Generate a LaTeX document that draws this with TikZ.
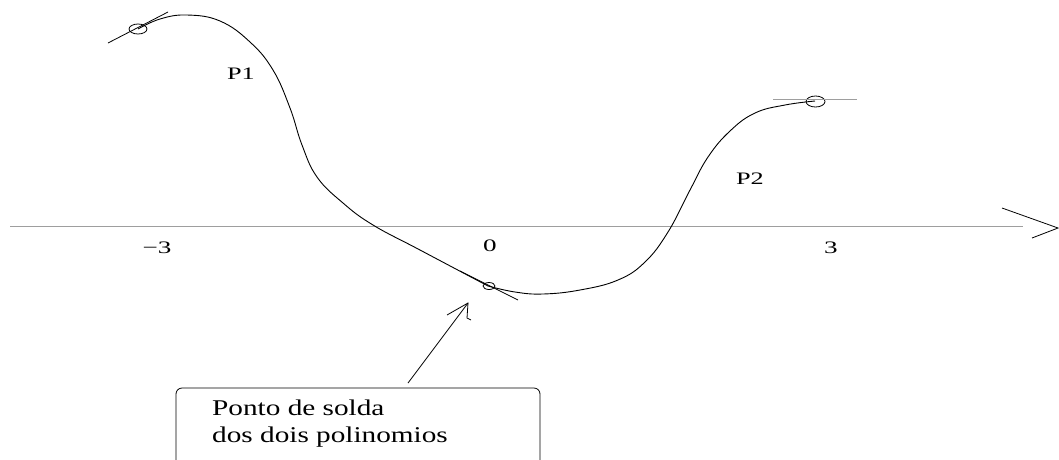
\documentclass[tikz,border=0pt]{standalone}
\usepackage{fontspec}
\setmainfont{Liberation Serif}
\usetikzlibrary{shapes.geometric}
\begin{document}
\begin{tikzpicture}[x=1pt,y=-1pt,
  axisline/.style={line width=1pt, black!38},
  curveline/.style={line width=0.9pt, black},
  thinline/.style={line width=0.8pt, black},
  knot/.style={draw, ellipse, line width=0.8pt, inner sep=0pt},
  lbl/.style={inner sep=0pt, font=\fontsize{17.5}{20}\selectfont},
  boxtxt/.style={inner sep=0pt, font=\fontsize{22.5}{27}\selectfont}]
\useasboundingbox (0,0) rectangle (1059,459);
% axis
\coordinate (axL) at (10,226);
\coordinate (axR) at (1023,226);
\coordinate (axTip) at (1058,228);
\coordinate (axW1) at (1002,208);
\coordinate (axW2) at (1032,238);
\draw[axisline] (axL) -- (axR);
\draw[thinline] (axW1) -- (axTip) -- (axW2);
% tick labels
\node[lbl] (tm3) at (157,248) {\scalebox{1.55}[1]{−3}};
\node[lbl] (t0) at (490,246) {\scalebox{1.55}[1]{0}};
\node[lbl] (t3) at (831,248) {\scalebox{1.55}[1]{3}};
% curve labels
\node[lbl] (p1) at (241,74) {\scalebox{1.5}[1]{P1}};
\node[lbl] (p2) at (750,179) {\scalebox{1.5}[1]{P2}};
% curve
\draw[curveline] plot[smooth, tension=0.7] coordinates {(138,29) (160,19) (187,15) (220,21) (250,42) (273,70) (290,108) (302,145) (317,177) (343,203) (373,225) (420,250) (488,286)};
\draw[curveline] plot[smooth, tension=0.7] coordinates {(488,286) (515,292) (543,294) (580,290) (618,280) (645,262) (668,232) (690,190) (708,157) (730,131) (755,113) (785,105) (815,101)};
% knots and tangents
\node[knot, minimum width=18pt, minimum height=10pt] (k1) at (138,29) {};
\node[knot, minimum width=12pt, minimum height=7pt] (k2) at (489,286) {};
\node[knot, minimum width=19pt, minimum height=11pt] (k3) at (815.5,101.5) {};
\coordinate (t1a) at (108,43);
\coordinate (t1b) at (168,12);
\coordinate (t2a) at (460,271);
\coordinate (t2b) at (518,300);
\coordinate (t3a) at (773,99);
\coordinate (t3b) at (857,99);
\draw[thinline] (t1a) -- (t1b);
\draw[thinline] (t2a) -- (t2b);
\draw[axisline] (t3a) -- (t3b);
% annotation box
\draw[thinline, rounded corners=6pt] (176,470) -- (176,388) -- (540,388) -- (540,470);
\node[boxtxt, anchor=base west] (bt1) at (212,415) {\scalebox{1.3}[1]{Ponto de solda}};
\node[boxtxt, anchor=base west] (bt2) at (212,442) {\scalebox{1.3}[1]{dos dois polinomios}};
% arrow
\coordinate (arS) at (408,383);
\coordinate (arT) at (468,303);
\coordinate (arW1) at (447,315);
\coordinate (arW2) at (467,318);
\coordinate (arW3) at (471,320);
\draw[thinline] (arS) -- (arT);
\draw[thinline] (arW1) -- (arT) -- (arW2) -- (arW3);
\end{tikzpicture}
\end{document}
